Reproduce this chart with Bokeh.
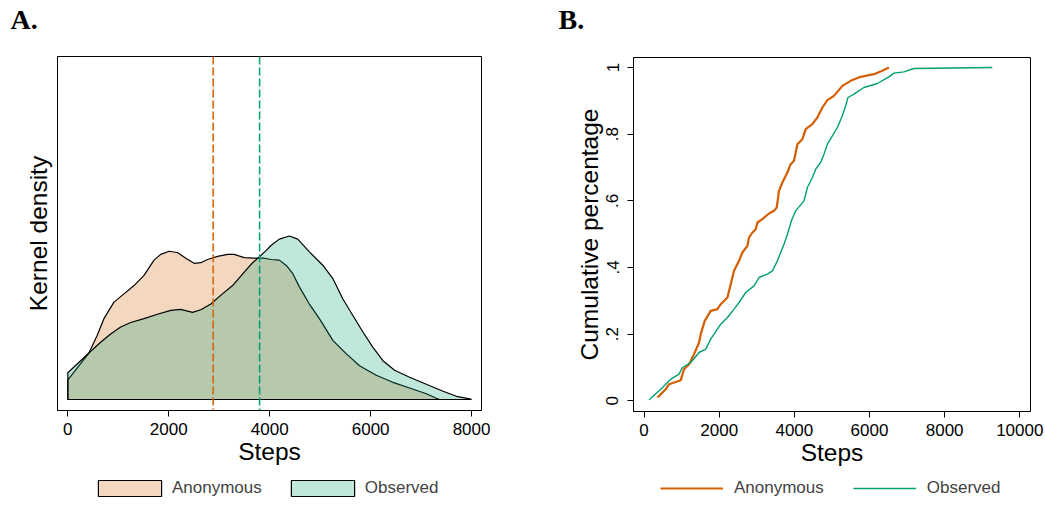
from bokeh.plotting import figure
from bokeh.models import Range1d, FixedTicker, Span, Legend, LegendItem
from bokeh.layouts import row, column
from bokeh.embed import file_html
from bokeh.resources import INLINE

# ---------------- Panel A: kernel densities (density in units of 1e-4) ----------------
anon_steps = [0, 417, 583, 715, 914, 1112, 1311, 1509, 1708, 1841, 2006, 2172, 2338, 2503,
              2635, 2768, 2967, 3166, 3297, 3495, 3694, 3893, 4026, 4191, 4323, 4456, 4588,
              4786, 4985, 5251, 5515, 5780, 6111, 6442, 6772, 7104, 7303, 7370]
anon_density = [0.31, 0.73, 1.01, 1.27, 1.53, 1.66, 1.79, 1.95, 2.19, 2.28, 2.33, 2.31, 2.22, 2.14,
                2.15, 2.20, 2.25, 2.28, 2.28, 2.23, 2.22, 2.22, 2.20, 2.19, 2.11, 1.98, 1.77,
                1.50, 1.27, 0.93, 0.72, 0.53, 0.38, 0.27, 0.18, 0.09, 0.02, 0.0]
obs_steps = [0, 417, 649, 848, 1047, 1245, 1509, 1775, 2040, 2238, 2471, 2635, 2834, 3033,
             3265, 3495, 3662, 3793, 3926, 4026, 4191, 4389, 4556, 4786, 5052, 5251, 5450,
             5648, 5847, 6046, 6244, 6474, 6772, 7104, 7436, 7700, 7964, 8000]
obs_density = [0.42, 0.73, 0.90, 1.03, 1.14, 1.21, 1.27, 1.34, 1.40, 1.415, 1.37, 1.41, 1.50, 1.64,
               1.79, 2.00, 2.15, 2.24, 2.34, 2.42, 2.52, 2.57, 2.52, 2.32, 2.11, 1.90, 1.58,
               1.32, 1.06, 0.82, 0.61, 0.46, 0.35, 0.24, 0.13, 0.05, 0.01, 0.0]
anon_mean = 2880
obs_mean = 3800

# ---------------- Panel B: cumulative distributions ----------------
anon_cdf_steps = [356, 577, 665, 976, 1064, 1197, 1330, 1463, 1508, 1615, 1774, 1952, 2040,
                  2218, 2306, 2394, 2527, 2617, 2750, 2793, 2883, 2971, 3016, 3149, 3325,
                  3458, 3530, 3591, 3681, 3814, 3902, 3990, 4080, 4213, 4301, 4479, 4612,
                  4745, 4878, 5054, 5277, 5498, 5764, 6118, 6341, 6517]
anon_cdf = [0.01, 0.035, 0.05, 0.062, 0.095, 0.11, 0.14, 0.175, 0.2, 0.24, 0.27, 0.275, 0.29,
            0.31, 0.35, 0.39, 0.42, 0.445, 0.465, 0.49, 0.505, 0.515, 0.535, 0.545, 0.562,
            0.57, 0.58, 0.63, 0.655, 0.685, 0.71, 0.72, 0.77, 0.785, 0.815, 0.83, 0.85,
            0.88, 0.902, 0.915, 0.945, 0.96, 0.972, 0.98, 0.99, 1.0]
obs_cdf_steps = [133, 444, 622, 710, 931, 1021, 1242, 1463, 1641, 1774, 2040, 2218, 2394,
                 2527, 2705, 2926, 3059, 3282, 3415, 3548, 3636, 3724, 3830, 3921, 4035,
                 4256, 4346, 4479, 4567, 4700, 4788, 4878, 5011, 5144, 5277, 5365, 5426,
                 5586, 5852, 6208, 6517, 6650, 6916, 7182, 9267]
obs_cdf = [0.003, 0.035, 0.055, 0.065, 0.08, 0.1, 0.115, 0.145, 0.155, 0.185, 0.23, 0.25, 0.275,
           0.295, 0.325, 0.345, 0.37, 0.38, 0.39, 0.42, 0.445, 0.47, 0.505, 0.54, 0.57,
           0.6, 0.64, 0.67, 0.695, 0.715, 0.74, 0.77, 0.795, 0.82, 0.855, 0.885, 0.91,
           0.92, 0.94, 0.952, 0.972, 0.983, 0.987, 0.997, 1.0]

x_ticks_a = [0, 2000, 4000, 6000, 8000]
x_ticks_b = [0, 2000, 4000, 6000, 8000, 10000]
y_ticks_b = [0, 0.2, 0.4, 0.6, 0.8, 1.0]
y_tick_labels_b = ["0", ".2", ".4", ".6", ".8", "1"]
series_names = ["Anonymous", "Observed"]
panel_titles = ["A.", "B."]

ORANGE = "#D55E00"
GREEN = "#009E73"
FONT = "Liberation Sans"
AXIS_LABEL_SIZE = "24.5px"


def blank(width, height, left, right, top=0):
    f = figure(width=width, height=height, output_backend="svg", toolbar_location=None,
               x_axis_location=None, y_axis_location=None,
               x_range=Range1d(0, 1), y_range=Range1d(-2, -1),
               min_border_left=left, min_border_right=right,
               min_border_top=top, min_border_bottom=0)
    f.grid.visible = False
    f.outline_line_color = None
    f.background_fill_color = "white"
    f.border_fill_color = "white"
    return f


def header(width, left, right, text, offset):
    f = blank(width, 40, left, right)
    f.title.text = text
    f.title.text_font = "Liberation Serif"
    f.title.text_font_style = "bold"
    f.title.text_font_size = "28px"
    f.title.text_color = "black"
    f.title.align = "left"
    f.title.offset = offset
    f.title.standoff = 2
    return f


def style_common(p):
    p.grid.visible = False
    p.outline_line_color = "black"
    p.outline_line_width = 1
    p.background_fill_color = "white"
    p.border_fill_color = "white"
    for ax in (p.xaxis[0], p.yaxis[0]):
        ax.axis_line_color = "black"
        ax.major_tick_line_color = "black"
        ax.major_tick_in = 0
        ax.major_tick_out = 6
        ax.minor_tick_line_color = None
        ax.major_label_text_font = FONT
        ax.major_label_text_font_size = "17px"
        ax.major_label_text_color = "black"
        ax.axis_label_text_font = FONT
        ax.axis_label_text_font_size = AXIS_LABEL_SIZE
        ax.axis_label_text_font_style = "normal"
        ax.axis_label_text_color = "black"


def make_legend(items, loc, gw, gh, standoff, spacing):
    return Legend(items=items, orientation="horizontal", location=loc,
                  glyph_width=gw, glyph_height=gh, label_standoff=standoff, spacing=spacing,
                  padding=0, margin=0, border_line_color=None, background_fill_alpha=0,
                  label_text_font=FONT, label_text_font_size="17px", label_height=20)


# ---------------- Panel A ----------------
A_LEFT, A_RIGHT = 57, 41
head_a = header(522, A_LEFT, A_RIGHT, panel_titles[0], -47)

pa = figure(width=522, height=430, output_backend="svg", toolbar_location=None,
            x_range=Range1d(-205, 8197), y_range=Range1d(-0.173, 5.39),
            min_border_left=A_LEFT, min_border_right=A_RIGHT, min_border_top=16, min_border_bottom=60)
style_common(pa)

pa.patch([anon_steps[0]] + anon_steps + [anon_steps[-1]], [0] + anon_density + [0],
         fill_color=ORANGE, fill_alpha=0.25, line_color="black", line_width=1.2)
pa.patch([obs_steps[0]] + obs_steps + [obs_steps[-1]], [0] + obs_density + [0],
         fill_color=GREEN, fill_alpha=0.25, line_color="black", line_width=1.2)
pa.add_layout(Span(location=anon_mean, dimension="height", line_color=ORANGE,
                   line_dash="8 3", line_width=1.5))
pa.add_layout(Span(location=obs_mean, dimension="height", line_color=GREEN,
                   line_dash="8 3", line_width=1.5))

pa.xaxis.ticker = FixedTicker(ticks=x_ticks_a)
pa.xaxis.major_label_standoff = 6
pa.xaxis.axis_label = "Steps"
pa.xaxis.axis_label_standoff = 0
pa.yaxis.ticker = FixedTicker(ticks=[])
pa.yaxis.major_tick_out = 0
pa.yaxis.axis_label = "Kernel density"
pa.yaxis.axis_label_standoff = 6

# legend strip (its swatch renderers lie outside its empty frame)
leg_fig_a = blank(522, 35, A_LEFT, A_RIGHT)
ka = leg_fig_a.patch([anon_steps[0]] + anon_steps + [anon_steps[-1]], [0] + anon_density + [0],
                     fill_color=ORANGE, fill_alpha=0.25, line_color="black", line_width=1.2)
ko = leg_fig_a.patch([obs_steps[0]] + obs_steps + [obs_steps[-1]], [0] + obs_density + [0],
                     fill_color=GREEN, fill_alpha=0.25, line_color="black", line_width=1.2)
leg_fig_a.add_layout(make_legend([LegendItem(label=series_names[0], renderers=[ka]),
                                  LegendItem(label=series_names[1], renderers=[ko])],
                                 (33, 7), 79, 20, 3, 21))

# ---------------- Panel B ----------------
B_LEFT, B_RIGHT = 111, 15
head_b = header(523, B_LEFT, B_RIGHT, panel_titles[1], -75)

pb = figure(width=523, height=430, output_backend="svg", toolbar_location=None,
            x_range=Range1d(-282, 10285), y_range=Range1d(-0.032, 1.03),
            min_border_left=B_LEFT, min_border_right=B_RIGHT, min_border_top=17, min_border_bottom=59)
style_common(pb)

pb.line(anon_cdf_steps, anon_cdf, line_color=ORANGE, line_width=2.2)
pb.line(obs_cdf_steps, obs_cdf, line_color=GREEN, line_width=1.4)

pb.xaxis.ticker = FixedTicker(ticks=x_ticks_b)
pb.xaxis.major_label_standoff = 6
pb.xaxis.axis_label = "Steps"
pb.xaxis.axis_label_standoff = 0
pb.yaxis.ticker = FixedTicker(ticks=y_ticks_b)
pb.yaxis.major_label_overrides = dict(zip(y_ticks_b, y_tick_labels_b))
pb.yaxis.major_label_orientation = "vertical"
pb.yaxis.major_label_standoff = 9
pb.yaxis.axis_label = "Cumulative percentage"
pb.yaxis.axis_label_standoff = 1

leg_fig_b = blank(523, 35, B_LEFT, B_RIGHT)
kla = leg_fig_b.line(anon_cdf_steps, anon_cdf, line_color=ORANGE, line_width=2.2)
klo = leg_fig_b.line(obs_cdf_steps, obs_cdf, line_color=GREEN, line_width=1.4)
leg_fig_b.add_layout(make_legend([LegendItem(label=series_names[0], renderers=[kla]),
                                  LegendItem(label=series_names[1], renderers=[klo])],
                                 (27, 7), 63, 20, 11, 29))

layout = row(column(head_a, pa, leg_fig_a), column(head_b, pb, leg_fig_b))
open("out.html", "w").write(file_html(layout, INLINE))
